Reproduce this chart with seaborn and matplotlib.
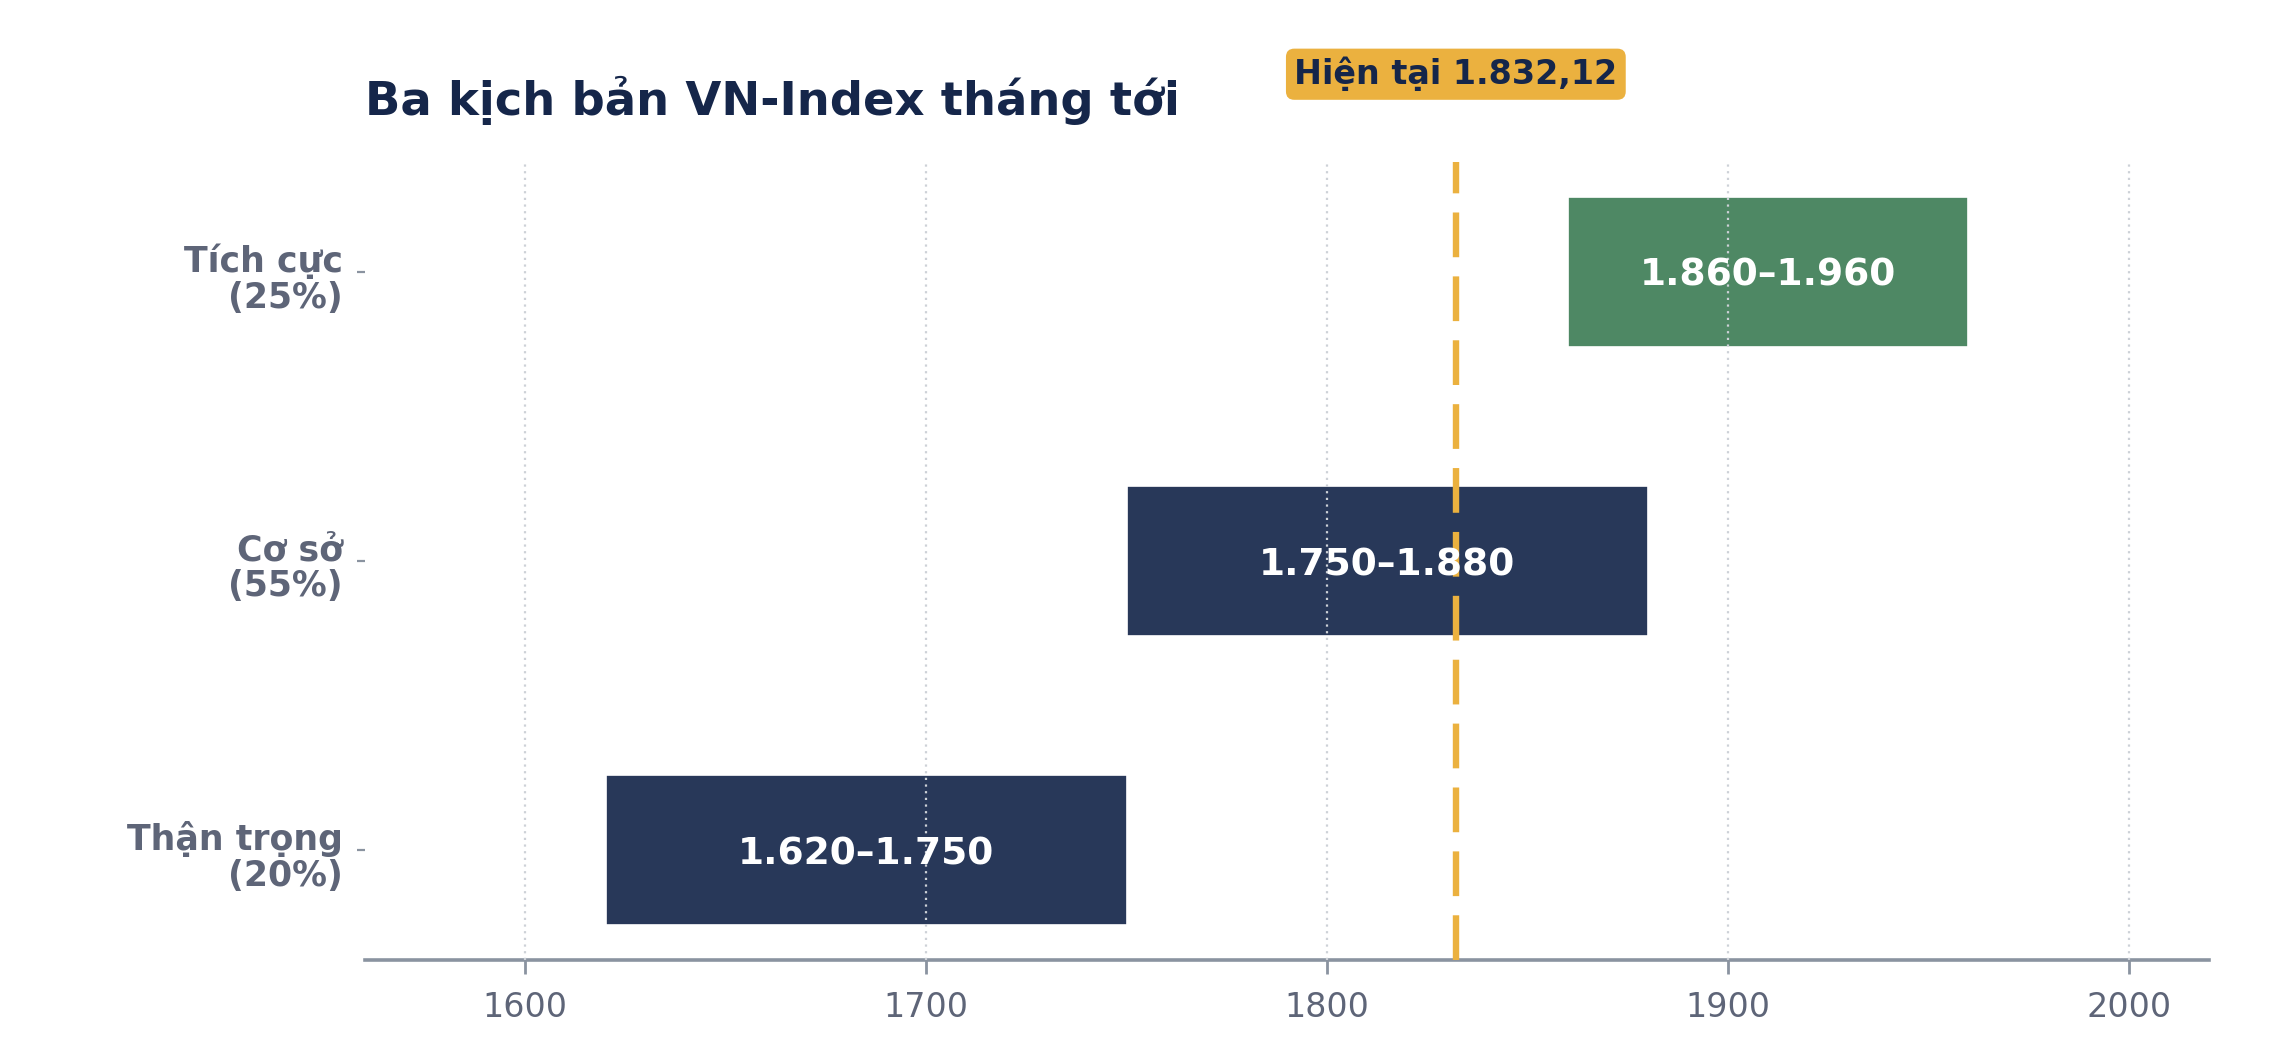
import numpy as np
import pandas as pd
import matplotlib
matplotlib.use("Agg")
import matplotlib.pyplot as plt
import matplotlib.transforms as mtransforms
import seaborn as sns

# Data
scenarios = ["Tích cực", "Cơ sở", "Thận trọng"]
probabilities = [25, 55, 20]
range_low = [1860, 1750, 1620]
range_high = [1960, 1880, 1750]
current_index = 1832.12
x_ticks = [1600, 1700, 1800, 1900, 2000]

bar_colors = ["#4E8864", "#283859", "#283859"]


def vn_number(value, decimals=0):
    """Vietnamese number style: '.' for thousands, ',' for decimals"""
    txt = f"{value:,.{decimals}f}"
    return txt.replace(",", "X").replace(".", ",").replace("X", ".")


sns.set_theme(style="white")
plt.rcParams['font.family'] = ['DejaVu Sans']

df = pd.DataFrame({
    'scenario': scenarios,
    'prob': probabilities,
    'low': range_low,
    'high': range_high,
})
df['label'] = [f"{s}\n({p}%)" for s, p in zip(df['scenario'], df['prob'])]
df['pos'] = np.arange(len(df))

W, H = 2273, 1053
fig = plt.figure(figsize=(W / 200, H / 200), dpi=200)
ax = fig.add_axes([365 / W, 1 - 960 / H, (2209 - 365) / W, (960 - 162) / H])

# floating bars for each scenario range
ax.barh(df['pos'], df['high'] - df['low'], left=df['low'], height=0.52,
        color=bar_colors, edgecolor='white', linewidth=0.6, zorder=1)

for _, row in df.iterrows():
    mid = (row['low'] + row['high']) / 2
    ax.text(mid, row['pos'], f"{vn_number(row['low'])}–{vn_number(row['high'])}",
            ha='center', va='center_baseline', color='white', fontsize=13.5,
            fontweight='bold', zorder=4)

# current level
ax.axvline(current_index, color='#EBB13F', linewidth=2.3, linestyle=(0, (7, 3)), zorder=3)
trans = mtransforms.blended_transform_factory(ax.transData, ax.transAxes)
ax.text(current_index, 1.11, f"Hiện tại {vn_number(current_index, 2)}", transform=trans,
        ha='center', va='center', fontsize=12, fontweight='bold', color='#15264A',
        bbox=dict(boxstyle='round,pad=0.25', facecolor='#EBB13F', edgecolor='none'),
        clip_on=False)

ax.set_xlim(1560, 2020)
ax.set_ylim(2.38, -0.38)
ax.set_xticks(x_ticks)
ax.set_xticklabels([str(t) for t in x_ticks])
ax.set_yticks(df['pos'])
ax.set_yticklabels(df['label'], ha='right', va='center', fontweight='bold', fontsize=12.5,
                   color='#5E6578', linespacing=1.08)

ax.grid(axis='x', linestyle=(0, (1, 2)), color='#CDD1D7', linewidth=0.8, zorder=2)
ax.grid(axis='y', visible=False)
ax.set_axisbelow(False)

for side in ['top', 'right', 'left']:
    ax.spines[side].set_visible(False)
ax.spines['bottom'].set_color('#8A93A0')
ax.spines['bottom'].set_linewidth(1.3)

ax.tick_params(axis='x', bottom=True, length=5, width=1, color='#8A93A0',
               labelsize=12, labelcolor='#5E6578', pad=6)
ax.tick_params(axis='y', left=True, length=3, width=0.8, color='#8A93A0', pad=5)
ax.set_xlabel('')
ax.set_ylabel('')

# the category labels sit a little below their tick marks
shift = mtransforms.ScaledTranslation(0, -2.6 / 72, fig.dpi_scale_trans)
for tick in ax.yaxis.get_major_ticks():
    tick.label1.set_transform(tick.label1.get_transform() + shift)

ax.set_title("Ba kịch bản VN-Index tháng tới", loc='left', fontsize=16.75,
             fontweight='bold', color='#15264A', pad=17)

fig.savefig('out.png', dpi=200, facecolor='white')
